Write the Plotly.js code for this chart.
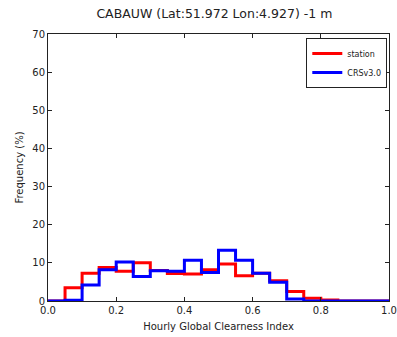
<!DOCTYPE html>
<html>
<head>
<meta charset="utf-8">
<script src="https://cdn.plot.ly/plotly-3.0.1.min.js"></script>
<style>html,body{margin:0;padding:0;background:#fff;}#chart{width:397px;height:337px;}</style>
</head>
<body>
<div id="chart"></div>
<script>
const binEdges = [0,0.05,0.1,0.15,0.2,0.25,0.3,0.35,0.4,0.45,0.5,0.55,0.6,0.65,0.7,0.75,0.8,0.85,0.9,0.95,1.0];
const stationFreq = [0,3.5,7.3,8.8,7.8,10.0,8.0,7.2,7.1,8.2,9.7,6.6,7.3,5.3,2.5,0.7,0.25,0,0,0];
const crsFreq = [0,0.2,4.2,8.2,10.2,6.4,7.9,7.8,10.7,7.5,13.3,10.7,7.3,4.9,0.5,0,0,0,0,0];
const xTicks = [0,0.2,0.4,0.6,0.8,1.0];
const xTickText = ['0.0','0.2','0.4','0.6','0.8','1.0'];
const yTicks = [0,10,20,30,40,50,60,70];

function stepY(v){ return v.concat([v[v.length-1]]); }

const traces = [
  {x: binEdges, y: stepY(stationFreq), name: 'station', type: 'scatter', mode: 'lines',
   line: {shape: 'hv', color: '#ff0000', width: 3}},
  {x: binEdges, y: stepY(crsFreq), name: 'CRSv3.0', type: 'scatter', mode: 'lines',
   line: {shape: 'hv', color: '#0000ff', width: 3}}
];

const axisCommon = {
  showline: true, linecolor: '#222', linewidth: 1, mirror: 'ticks',
  ticks: 'inside', ticklen: 4, tickcolor: '#222', showgrid: false, zeroline: false,
  tickfont: {family: 'DejaVu Sans', size: 10, color: '#222'}
};

const layout = {
  width: 397, height: 337,
  margin: {l: 48, r: 8, t: 34, b: 36},
  paper_bgcolor: '#fff', plot_bgcolor: '#fff',
  title: {text: 'CABAUW (Lat:51.972 Lon:4.927) -1 m', x: 0.54, xanchor: 'center', y: 0.96, yanchor: 'middle',
          font: {family: 'DejaVu Sans', size: 12.5, color: '#222'}},
  xaxis: Object.assign({}, axisCommon, {range: [0, 1], tickvals: xTicks, ticktext: xTickText,
    title: {text: 'Hourly Global Clearness Index', standoff: 7, font: {family: 'DejaVu Sans', size: 10, color: '#222'}}}),
  yaxis: Object.assign({}, axisCommon, {range: [0, 70], tickvals: yTicks,
    title: {text: 'Frequency (%)', standoff: 6, font: {family: 'DejaVu Sans', size: 10, color: '#222'}}}),
  legend: {x: 0.995, y: 0.985, xanchor: 'right', yanchor: 'top', bgcolor: '#fff', bordercolor: '#222', borderwidth: 1,
           font: {family: 'DejaVu Sans', size: 8, color: '#222'}, tracegroupgap: 0, itemwidth: 30},
  showlegend: true
};

Plotly.newPlot('chart', traces, layout, {displayModeBar: false, staticPlot: true});
</script>
</body>
</html>
